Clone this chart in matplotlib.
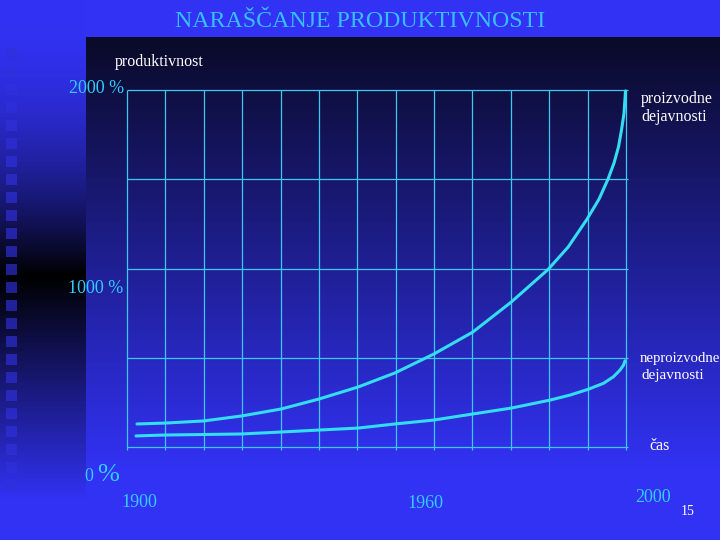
import numpy as np
import matplotlib
matplotlib.use('Agg')
import matplotlib.pyplot as plt

# podatki, odčitani s slike (leto, % produktivnosti)
years_prod = [1902.0, 1907.6, 1915.4, 1923.0, 1930.9, 1938.5, 1946.3, 1953.7, 1961.5,
              1969.3, 1977.0, 1984.4, 1988.4, 1992.2, 1994.6, 1996.4, 1997.6, 1998.5,
              1999.1, 1999.6, 1999.9]
prod = [129, 134, 146, 174, 213, 269, 336, 415, 521,
        644, 812, 995, 1120, 1277, 1389, 1501, 1591, 1682,
        1776, 1869, 1995]

years_neprod = [1901.8, 1907.6, 1923.0, 1930.9, 1938.5, 1946.3, 1953.7, 1961.5,
                1969.3, 1977.0, 1984.8, 1988.8, 1992.4, 1995.5, 1997.5, 1998.8,
                1999.5, 1999.8]
neprod = [62, 67, 73, 84, 95, 106, 129, 151,
          185, 218, 263, 291, 323, 357, 394, 431,
          459, 483]

grid_y = [0, 500, 1000, 1500, 2000]
n_cols = 13

W, H = 720, 540
BLUE = np.array([50, 50, 245]) / 255
DARK = np.array([10, 10, 40]) / 255
CYAN = '#33CCFF'
GRID = '#3CC8F0'
CURVE = '#33DDF2'
SERIF = ['Liberation Serif', 'DejaVu Serif']


def background():
    """ozadje prosojnice: modra, temna plošča, temni pas levo, kvadratki"""
    yy = np.arange(H)[:, None] * np.ones((1, W))
    xx = np.ones((H, 1)) * np.arange(W)[None, :]
    img = np.ones((H, W, 3)) * BLUE

    t = np.clip((yy - 37) / (470 - 37), 0, 1)[..., None]
    panel = DARK + (BLUE - DARK) * t
    m = (xx >= 86) & (yy >= 37)
    img[m] = panel[m]

    ys = np.arange(H).astype(float)
    f = np.where(ys <= 275, 1 - (ys / 275) ** 2, np.clip((ys - 275) / 225, 0, 1))
    strip = f[:, None] * BLUE[None, :]
    img[:, :86] = strip[:, None, :]

    sq = np.array([48, 48, 220]) / 255
    for k in range(25):
        y0 = 48 + 18 * k
        img[y0:y0 + 11, 6:17] = 0.35 * img[y0:y0 + 11, 6:17] + 0.65 * sq
    return img


fig = plt.figure(figsize=(W / 100, H / 100), dpi=100)
bg = fig.add_axes([0, 0, 1, 1])
bg.imshow(background(), extent=[0, W, H, 0], aspect='auto', interpolation='bilinear')
bg.set_xlim(0, W); bg.set_ylim(H, 0); bg.axis('off')

ax = fig.add_axes([127 / W, (H - 447) / H, 499 / W, 357 / H])
ax.set_xlim(1900, 2000); ax.set_ylim(0, 2000)
ax.axis('off')
ax.patch.set_alpha(0)

grid_x = np.linspace(1900, 2000, n_cols + 1)
ax.vlines(grid_x, -18, 2000, color=GRID, linewidth=0.9, clip_on=False)
ax.hlines(grid_y, 1900, 2000.5, color=GRID, linewidth=0.9, clip_on=False)

ax.plot(years_prod, prod, color=CURVE, linewidth=2.2, solid_capstyle='round',
        solid_joinstyle='round', clip_on=False)
ax.plot(years_neprod, neprod, color=CURVE, linewidth=2.2, solid_capstyle='round',
        solid_joinstyle='round', clip_on=False)

# besedila (pikselne koordinate)
bg.text(360, 27, 'NARAŠČANJE PRODUKTIVNOSTI', color='#36BFFF', fontsize=17.2,
        family=SERIF, ha='center', va='baseline')
bg.text(115, 66, 'produktivnost', color='white', fontsize=11.5, family=SERIF, va='baseline')
bg.text(124, 93, '2000 %', color=CYAN, fontsize=13, family=SERIF, ha='right', va='baseline')
bg.text(123, 293, '1000 %', color=CYAN, fontsize=13, family=SERIF, ha='right', va='baseline')
bg.text(84, 481, '0', color=CYAN, fontsize=13, family=SERIF, va='baseline')
bg.text(97, 481, '%', color=CYAN, fontsize=19, family=SERIF, va='baseline')
bg.text(121, 507, '1900', color=CYAN, fontsize=13, family=SERIF, va='baseline')
bg.text(407, 508, '1960', color=CYAN, fontsize=13, family=SERIF, va='baseline')
bg.text(635, 502, '2000', color=CYAN, fontsize=13, family=SERIF, va='baseline')
bg.text(681, 515, '15', color='white', fontsize=10, family=SERIF, va='baseline')

bg.text(641, 103, 'proizvodne', color='white', fontsize=11.5, family=SERIF, va='baseline')
bg.text(641, 121, 'dejavnosti', color='white', fontsize=11.5, family=SERIF, va='baseline')
bg.text(640, 362, 'neproizvodne', color='white', fontsize=10.6, family=SERIF, va='baseline')
bg.text(641, 379, 'dejavnosti', color='white', fontsize=11, family=SERIF, va='baseline')
bg.text(649, 450, 'čas', color='white', fontsize=11.5, family=SERIF, va='baseline')

plt.savefig('out.png', dpi=100)
plt.close()
